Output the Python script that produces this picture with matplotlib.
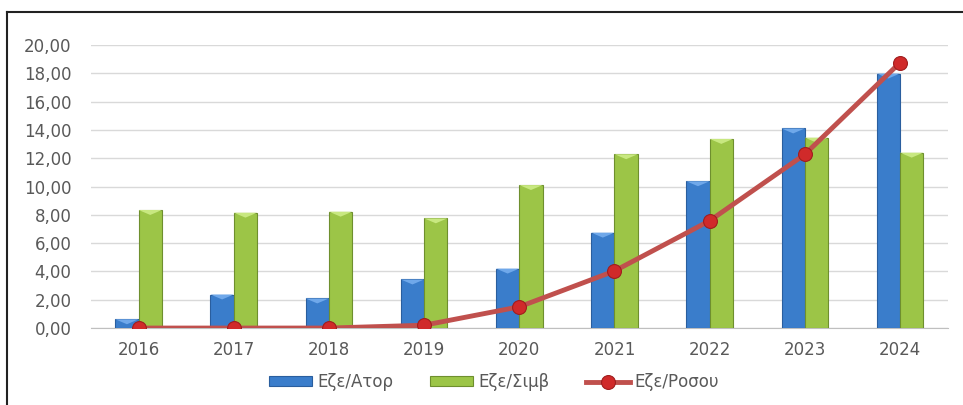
import matplotlib.pyplot as plt
import numpy as np
from matplotlib.lines import Line2D
from matplotlib.patches import Polygon

years = ['2016', '2017', '2018', '2019', '2020', '2021', '2022', '2023', '2024']
ator = [0.62, 2.37, 2.09, 3.43, 4.20, 6.74, 10.37, 14.10, 17.98]
simv = [8.34, 8.15, 8.22, 7.75, 10.10, 12.28, 13.36, 13.45, 12.39]
rosou = [0.0, 0.0, 0.0, 0.20, 1.50, 4.03, 7.58, 12.27, 18.75]
labels = ['Εζε/Ατορ', 'Εζε/Σιμβ', 'Εζε/Ροσου']

plt.rcParams['font.family'] = ['DejaVu Sans']

fig = plt.figure(figsize=(9.63, 4.05), dpi=100)
ax = fig.add_axes([0.0945, 0.19, 0.8895, 0.699])

x = np.arange(len(years))
width = 0.245

b1 = ax.bar(x - width/2, ator, width, color='#3A7DCB', edgecolor='#2A5E9E', linewidth=0.8,
            label=labels[0], zorder=3)
b2 = ax.bar(x + width/2, simv, width, color='#9CC547', edgecolor='#6E8F2E', linewidth=0.8,
            label=labels[1], zorder=3)
ax.plot(x, rosou, color='#C0504D', linewidth=3.5, marker='o', markersize=10,
        markerfacecolor='#D02A2A', markeredgecolor='#A01E1E', markeredgewidth=0.8,
        label=labels[2], zorder=4)

# light bevel on top of each bar
for bars, light in [(b1, '#6FA8EA'), (b2, '#C8E880')]:
    for r in bars:
        x0, w, h = r.get_x(), r.get_width(), r.get_height()
        d = min(0.35, h)
        ax.add_patch(Polygon([(x0, h), (x0 + w, h), (x0 + w/2, h - d)],
                             closed=True, color=light, zorder=3.5, linewidth=0))

ax.set_xlim(-0.5, len(years) - 0.5)
ax.set_ylim(0, 20)
ax.set_yticks(np.arange(0, 21, 2))
ax.set_yticklabels([f'{v:.2f}'.replace('.', ',') for v in np.arange(0, 21, 2)])
ax.set_xticks(x)
ax.set_xticklabels(years)
ax.tick_params(axis='both', length=0, labelsize=12, colors='#595959')
ax.tick_params(axis='y', pad=14)
ax.tick_params(axis='x', pad=9)

ax.grid(axis='y', color='#D9D9D9', linewidth=1, zorder=0)
for s in ['top', 'right', 'left']:
    ax.spines[s].set_visible(False)
ax.spines['bottom'].set_color('#BFBFBF')

handles, hl = ax.get_legend_handles_labels()
order = [hl.index(l) for l in labels]
fig.legend([handles[i] for i in order], labels, loc='center', bbox_to_anchor=(0.513, 0.057),
           ncol=3, frameon=False, fontsize=12, handlelength=2.6, handleheight=0.5,
           columnspacing=2.2, handletextpad=0.3, labelcolor='#595959')

# outer frame (top and left edges visible)
fig.add_artist(Line2D([0.0073, 1.0], [0.9705, 0.9705], color='#222222', linewidth=1.5))
fig.add_artist(Line2D([0.0073, 0.0073], [0.0, 0.9705], color='#222222', linewidth=1.5))

fig.savefig('out.png', dpi=100)
